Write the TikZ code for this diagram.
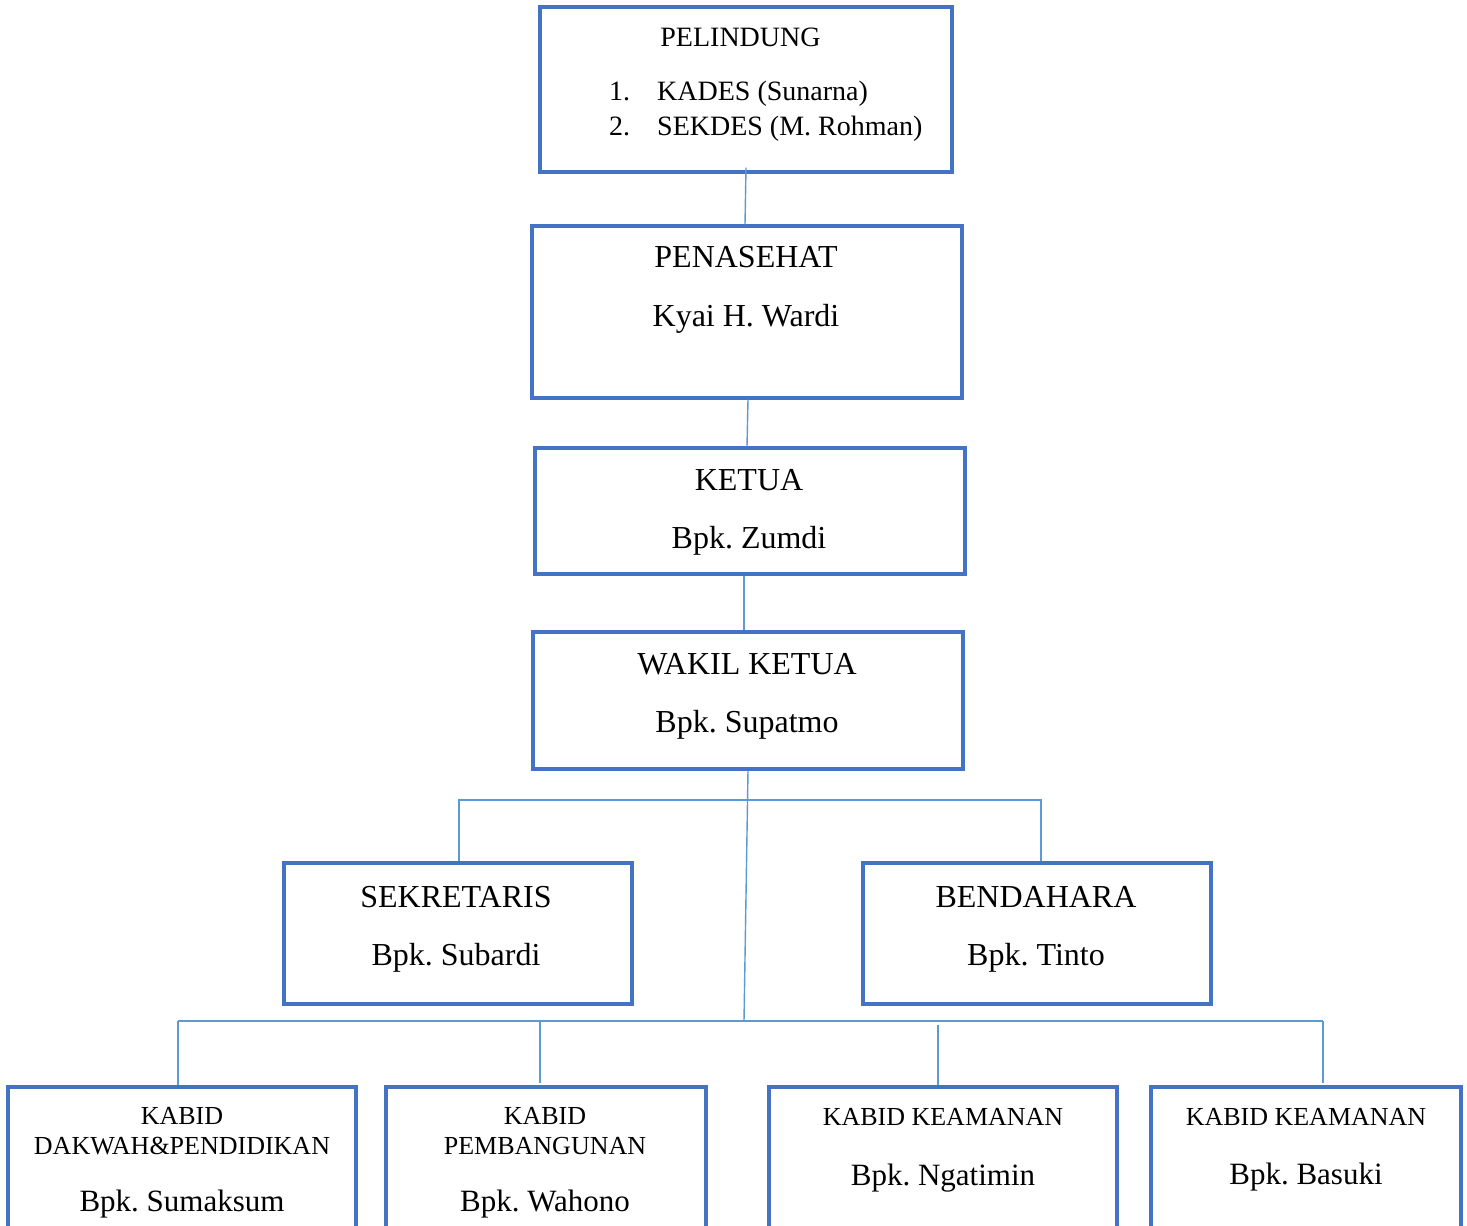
\documentclass[tikz,border=0pt]{standalone}
\usepackage{fontspec}
\setmainfont{Liberation Serif}
\frenchspacing
\definecolor{boxblue}{HTML}{4472C4}
\definecolor{linkblue}{HTML}{5B9BD5}
\tikzset{
  box/.style={draw=boxblue, line width=3.2pt, rectangle, inner sep=0pt},
  link/.style={draw=linkblue, line width=1.4pt},
  bigtxt/.style={font=\fontsize{32}{38}\selectfont, anchor=base, inner sep=0pt},
  midtxt/.style={font=\fontsize{28}{34}\selectfont, anchor=base, inner sep=0pt},
  smalltxt/.style={font=\fontsize{26}{30}\selectfont, anchor=base, inner sep=0pt},
  persontxt/.style={font=\fontsize{31}{36}\selectfont, anchor=base, inner sep=0pt},
}
\begin{document}
\begin{tikzpicture}[x=1pt,y=-1pt]
\path[use as bounding box] (0,0) rectangle (1467,1226);
\clip (0,0) rectangle (1467,1226);
\fill[white] (0,0) rectangle (1467,1226);

% boxes
\node[box, minimum width=412pt, minimum height=165pt] (pel) at (746,89.5) {};
\node[box, minimum width=430pt, minimum height=172pt] (pen) at (747,312) {};
\node[box, minimum width=430pt, minimum height=126pt] (ket) at (750,511) {};
\node[box, minimum width=430pt, minimum height=137pt] (wak) at (748,700.5) {};
\node[box, minimum width=348pt, minimum height=141pt] (sek) at (458,933.5) {};
\node[box, minimum width=348pt, minimum height=141pt] (ben) at (1037,933.5) {};
\node[box, minimum width=348pt, minimum height=173pt] (k1) at (182,1173.5) {};
\node[box, minimum width=320pt, minimum height=173pt] (k2) at (546,1173.5) {};
\node[box, minimum width=348pt, minimum height=173pt] (k3) at (943,1173.5) {};
\node[box, minimum width=310pt, minimum height=173pt] (k4) at (1306,1173.5) {};

% texts
\node[midtxt] (t1) at (740.5,46) {PELINDUNG};
\node[midtxt, anchor=base west] (t1a) at (609,100) {1.};
\node[midtxt, anchor=base west] (t1b) at (657,100) {KADES (Sunarna)};
\node[midtxt, anchor=base west] (t1c) at (609,135) {2.};
\node[midtxt, anchor=base west] (t1d) at (657,135) {SEKDES (M. Rohman)};

\node[bigtxt] (t2) at (746,267) {PENASEHAT};
\node[bigtxt] (t2b) at (746,326) {Kyai H. Wardi};
\node[bigtxt] (t3) at (749,490) {KETUA};
\node[bigtxt] (t3b) at (749,548) {Bpk. Zumdi};
\node[bigtxt] (t4) at (747,674) {WAKIL KETUA};
\node[bigtxt] (t4b) at (747,732) {Bpk. Supatmo};
\node[bigtxt] (t5) at (456,907) {SEKRETARIS};
\node[bigtxt] (t5b) at (456,965) {Bpk. Subardi};
\node[bigtxt] (t6) at (1036,907) {BENDAHARA};
\node[bigtxt] (t6b) at (1036,965) {Bpk. Tinto};

\node[smalltxt] (t7) at (182,1124) {KABID};
\node[smalltxt] (t7a) at (182,1154) {DAKWAH\&PENDIDIKAN};
\node[persontxt] (t7b) at (182,1211) {Bpk. Sumaksum};
\node[smalltxt] (t8) at (545,1124) {KABID};
\node[smalltxt] (t8a) at (545,1154) {PEMBANGUNAN};
\node[persontxt] (t8b) at (545,1211) {Bpk. Wahono};
\node[smalltxt] (t9) at (943,1125) {KABID KEAMANAN};
\node[persontxt] (t9b) at (943,1185) {Bpk. Ngatimin};
\node[smalltxt] (t10) at (1306,1125) {KABID KEAMANAN};
\node[persontxt] (t10b) at (1306,1184) {Bpk. Basuki};

% connectors
\coordinate (busA) at (748,800);
\coordinate (bm) at (744,1021);
\coordinate (b1) at (178,1021);
\coordinate (b2) at (540,1021);
\coordinate (b3) at (938,1021);
\coordinate (b4) at (1323,1021);
\coordinate (e2) at (540,1083);
\coordinate (s3) at (938,1025);
\coordinate (e4) at (1323,1083);
\coordinate (drop6) at (1041,800);

\draw[link] ([yshift=6pt]pel.south) -- ([xshift=-2pt]pen.north);
\draw[link] ([xshift=1pt]pen.south) -- ([xshift=-3pt]ket.north);
\draw[link] ([xshift=-6pt]ket.south) -- ([xshift=-4pt]wak.north);
\draw[link] ([xshift=1pt]sek.north) |- (busA) -- (drop6) -- (drop6 |- ben.north);
\draw[link] (wak.south) -- (bm);
\draw[link] (b1) -- (b4);
\draw[link] (b1) -- (b1 |- k1.north);
\draw[link] (b2) -- (e2);
\draw[link] (s3) -- (s3 |- k3.north);
\draw[link] (b4) -- (e4);
\end{tikzpicture}
\end{document}
